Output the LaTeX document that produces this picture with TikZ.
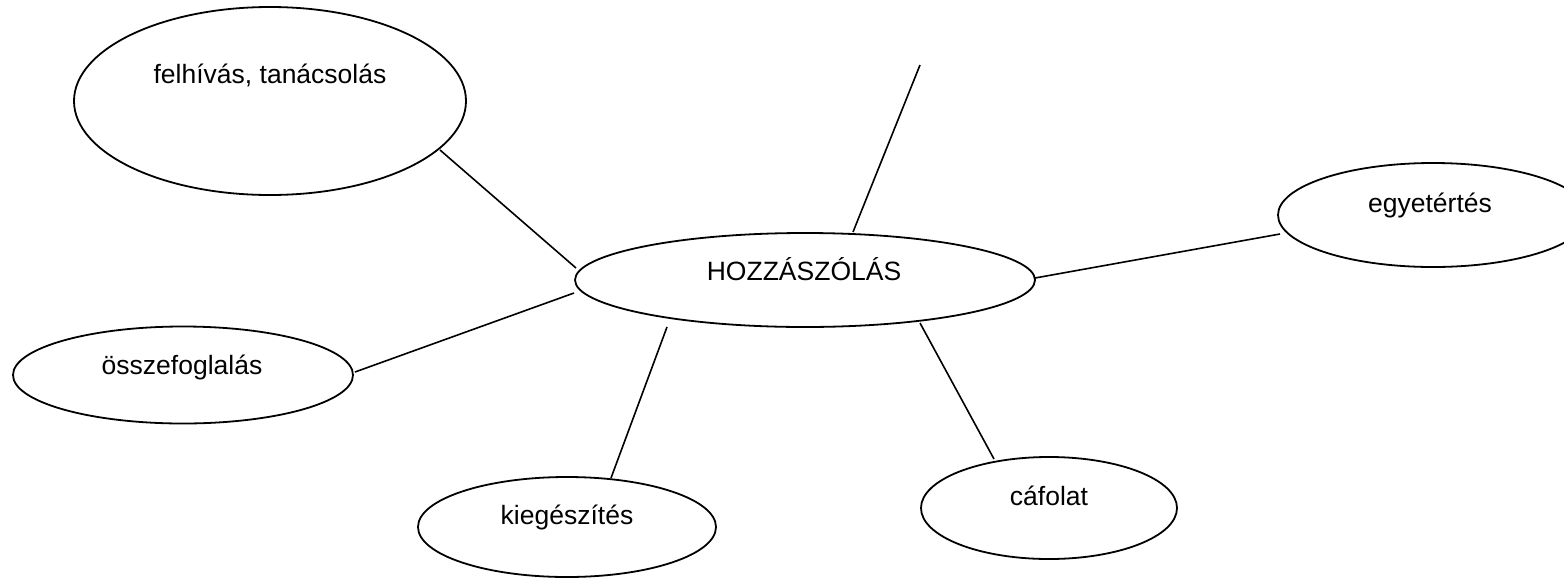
\documentclass[tikz,border=0pt]{standalone}
\usepackage{fontspec}
\setmainfont{Liberation Sans}
\usetikzlibrary{shapes.geometric,calc}
\tikzset{
  bubble/.style={draw=black, line width=0.9pt, ellipse, inner sep=0pt},
  lbl/.style={anchor=base, inner sep=0pt, font=\fontsize{13.25}{16}\selectfont},
  conn/.style={draw=black, line width=0.8pt}
}
\begin{document}
\begin{tikzpicture}[x=0.5pt,y=-0.5pt]
\clip (0,0) rectangle (1564,579);
\fill[white] (0,0) rectangle (1564,579);
\node[bubble, minimum width=196pt, minimum height=94pt] (f) at (270,101) {};
\node[bubble, minimum width=230pt, minimum height=47pt] (h) at (805,280) {};
\node[bubble, minimum width=155pt, minimum height=52pt] (e) at (1433,215) {};
\node[bubble, minimum width=170pt, minimum height=48.5pt] (o) at (183,375) {};
\node[bubble, minimum width=149pt, minimum height=50pt] (k) at (567,527) {};
\node[bubble, minimum width=128pt, minimum height=51pt] (c) at (1049,508) {};
\node[lbl] (ft) at (270,83) {felhívás, tanácsolás};
\node[lbl] (ht) at (804,280) {HOZZÁSZÓLÁS};
\node[lbl] (et) at (1430,212) {egyetértés};
\node[lbl] (ot) at (182,374) {összefoglalás};
\node[lbl] (kt) at (567,524) {kiegészítés};
\node[lbl] (ct) at (1049,505) {cáfolat};
\coordinate (top) at (920,65);
\draw[conn] ($(f)+(170,49)$) -- ($(h)+(-229,-12)$);
\draw[conn] (top) -- ($(h)+(48,-48)$);
\draw[conn] ($(h)+(230,-2)$) -- ($(e)+(-153,19)$);
\draw[conn] ($(o)+(172,-3)$) -- ($(h)+(-231,13)$);
\draw[conn] ($(h)+(-138,47)$) -- ($(k)+(44,-49)$);
\draw[conn] ($(h)+(115,43)$) -- ($(c)+(-55,-49)$);
\end{tikzpicture}
\end{document}
